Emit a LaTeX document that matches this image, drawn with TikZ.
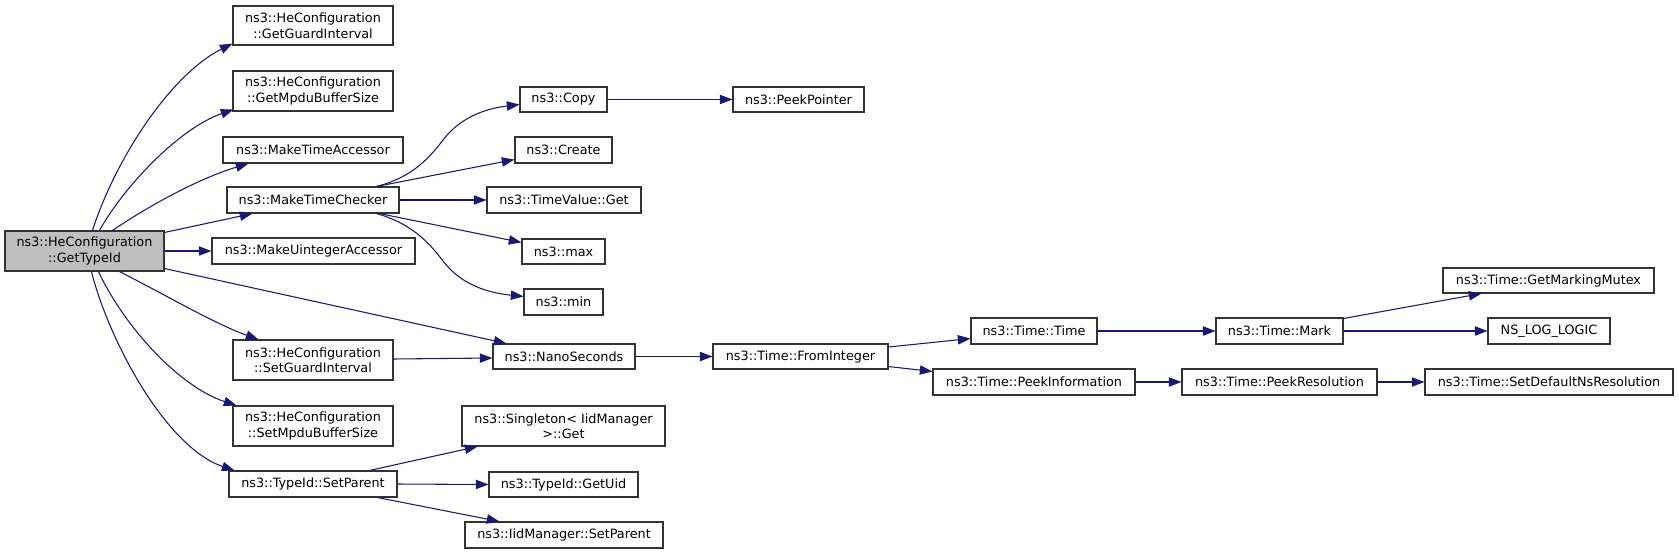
\documentclass[tikz,border=0pt]{standalone}
\usepackage{fontspec}
\setmainfont{DejaVu Sans}
\usetikzlibrary{arrows.meta,calc}
\definecolor{edgeblue}{HTML}{191970}
\definecolor{boxline}{HTML}{333333}
\definecolor{grayfill}{HTML}{BFBFBF}
\newcommand{\nbox}[7]{%
  \node[box,#1,minimum width={(#5-#3)*0.75pt},minimum height={(#6-#4)*0.75pt}]
    (#2) at ({(#3+#5)/2},{(#4+#6)/2}) {#7};}
\begin{document}
\begin{tikzpicture}[x=0.75pt,y=-0.75pt,
  box/.style={draw=boxline,line width=0.8pt,fill=white,inner sep=0pt,align=center,
    font=\fontsize{9.6}{11.6}\selectfont},
  conn/.style={draw=edgeblue,line width=0.8pt,
    -{Triangle[length=9.5pt,width=7pt,fill=edgeblue]}}]
\useasboundingbox[fill=white] (0,0) rectangle (1679,554);
% nodes
\nbox{fill=grayfill}{gti}{5}{231}{164}{271}{ns3::HeConfiguration\\::GetTypeId}
\nbox{}{ggi}{233}{6}{393}{45}{ns3::HeConfiguration\\::GetGuardInterval}
\nbox{}{gmb}{233}{71}{393}{111}{ns3::HeConfiguration\\::GetMpduBufferSize}
\nbox{}{mta}{223}{137}{403}{163}{ns3::MakeTimeAccessor}
\nbox{}{mtc}{227}{187}{399}{213}{ns3::MakeTimeChecker}
\nbox{}{mua}{212}{238}{415}{264}{ns3::MakeUintegerAccessor}
\nbox{}{sgi}{233}{340}{393}{380}{ns3::HeConfiguration\\::SetGuardInterval}
\nbox{}{smb}{233}{406}{393}{446}{ns3::HeConfiguration\\::SetMpduBufferSize}
\nbox{}{tsp}{229}{471}{397}{497}{ns3::TypeId::SetParent}
\nbox{}{copy}{520}{87}{607}{112}{ns3::Copy}
\nbox{}{pp}{733}{87}{864}{112}{ns3::PeekPointer}
\nbox{}{create}{515}{137}{612}{163}{ns3::Create}
\nbox{}{tvg}{487}{187}{641}{213}{ns3::TimeValue::Get}
\nbox{}{max}{522}{239}{605}{264}{ns3::max}
\nbox{}{min}{524}{289}{603}{315}{ns3::min}
\nbox{}{ns}{493}{344}{635}{369}{ns3::NanoSeconds}
\nbox{}{fi}{713}{344}{888}{369}{ns3::Time::FromInteger}
\nbox{}{sing}{462}{406}{665}{446}{ns3::Singleton< IidManager\\>::Get}
\nbox{}{uid}{489}{472}{638}{497}{ns3::TypeId::GetUid}
\nbox{}{ism}{465}{522}{663}{548}{ns3::IidManager::SetParent}
\nbox{}{tt}{971}{318}{1097}{344}{ns3::Time::Time}
\nbox{}{pi}{933}{369}{1135}{395}{ns3::Time::PeekInformation}
\nbox{}{mark}{1216}{318}{1343}{344}{ns3::Time::Mark}
\nbox{}{pr}{1182}{369}{1377}{395}{ns3::Time::PeekResolution}
\nbox{}{gmm}{1443}{268}{1654}{293}{ns3::Time::GetMarkingMutex}
\nbox{}{nll}{1488}{318}{1610}{344}{NS\_LOG\_LOGIC}
\nbox{}{sdn}{1425}{369}{1673}{395}{ns3::Time::SetDefaultNsResolution}
% edges from GetTypeId
\draw[conn] ($(gti.north west)+(88,0)$) .. controls (115,160) and (170,75) .. ($(ggi.south west)+(0,-2)$);
\draw[conn] ($(gti.north west)+(95,0)$) .. controls (125,185) and (180,128) .. ($(gmb.south west)+(1,-2)$);
\draw[conn] ($(gti.north west)+(108,0)$) .. controls (150,205) and (200,178) .. ($(mta.south west)+(26,0)$);
\draw[conn] ($(gti.north east)+(0,2)$) -- ($(mtc.south west)+(26,0)$);
\draw[conn] (gti.east) -- (mua.west);
\draw[conn] ($(gti.south east)+(0,-3)$) -- ($(ns.north west)+(14,0)$);
\draw[conn] ($(gti.south west)+(115,0)$) .. controls (160,292) and (215,324) .. ($(sgi.north west)+(26,0)$);
\draw[conn] ($(gti.south west)+(94,0)$) .. controls (125,328) and (180,387) .. ($(smb.north west)+(4,0)$);
\draw[conn] ($(gti.south west)+(87,0)$) .. controls (108,338) and (165,447) .. ($(tsp.north west)+(6,0)$);
% edges from MakeTimeChecker
\draw[conn] ($(mtc.north west)+(150,0)$) .. controls (410,178) and (428,160) .. (443,140)
  .. controls (462,115) and (490,108) .. ($(copy.south west)+(0,-8)$);
\draw[conn] ($(mtc.north west)+(150,0)$) -- ($(create.south west)+(0,-4)$);
\draw[conn] (mtc.east) -- (tvg.west);
\draw[conn] ($(mtc.south west)+(153,0)$) -- ($(max.north west)+(0,4)$);
\draw[conn] ($(mtc.south west)+(150,0)$) .. controls (410,223) and (428,241) .. (443,261)
  .. controls (462,286) and (490,293) .. ($(min.north west)+(0,8)$);
\draw[conn] (copy.east) -- (pp.west);
% NanoSeconds chain
\draw[conn] ($(sgi.east)+(0,-1)$) -- ($(ns.west)+(0,1.5)$);
\draw[conn] (ns.east) -- (fi.west);
\draw[conn] ($(fi.east)+(0,-9.5)$) -- ($(tt.south west)+(0,-6)$);
\draw[conn] ($(fi.south east)+(0,-3)$) -- ($(pi.north west)+(0,3)$);
\draw[conn] (tt.east) -- (mark.west);
\draw[conn] (pi.east) -- (pr.west);
\draw[conn] ($(mark.north east)+(0,1)$) -- ($(gmm.south west)+(39,0)$);
\draw[conn] (mark.east) -- (nll.west);
\draw[conn] (pr.east) -- (sdn.west);
% SetParent
\draw[conn] ($(tsp.north west)+(141,0)$) -- ($(sing.south west)+(16,0)$);
\draw[conn] (tsp.east) -- (uid.west);
\draw[conn] ($(tsp.south west)+(149,0)$) -- ($(ism.north west)+(35,0)$);
\end{tikzpicture}
\end{document}
